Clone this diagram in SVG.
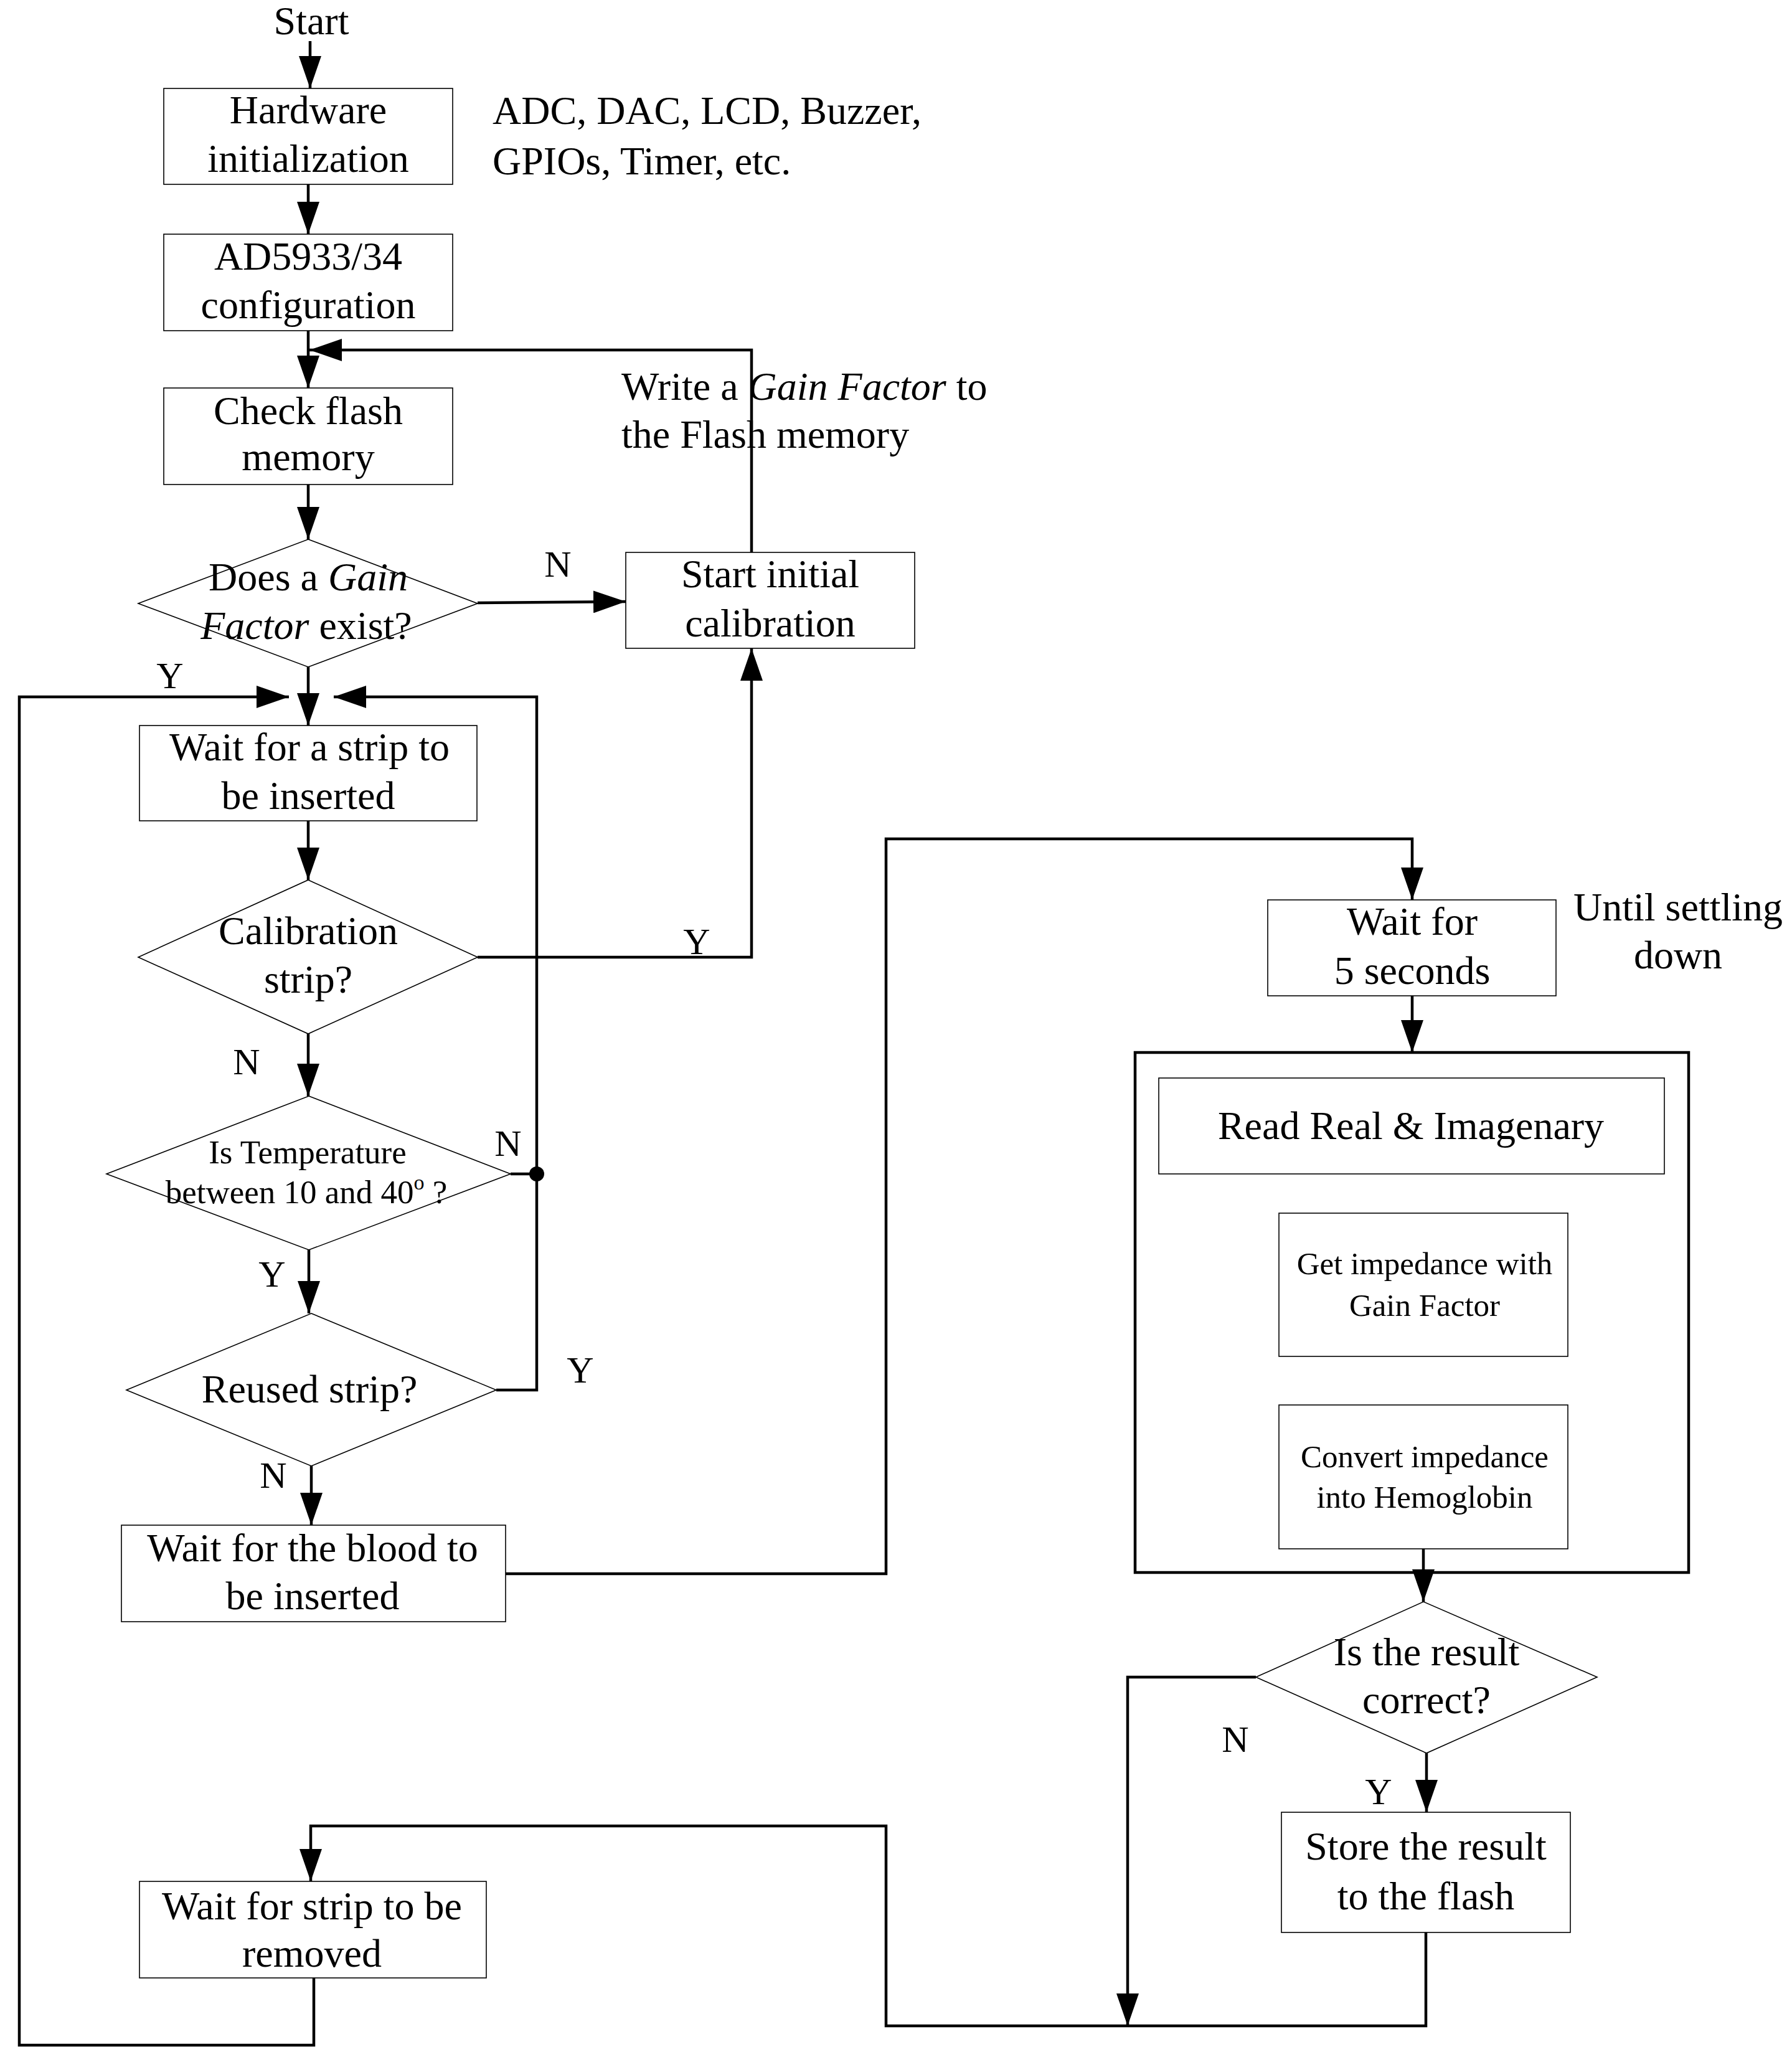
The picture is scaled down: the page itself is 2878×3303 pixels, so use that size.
<svg xmlns="http://www.w3.org/2000/svg" width="2878" height="3303" viewBox="0 0 2878 3303">
<style>
.bg{fill:#fff}
.box{fill:none;stroke:#000;stroke-width:1.6}
.frame{fill:none;stroke:#000;stroke-width:4.5}
.conn{fill:none;stroke:#000;stroke-width:4.5}
.t{font-family:"Liberation Serif","Times New Roman",serif;font-size:64px;fill:#000;text-anchor:middle}
.s{font-size:51px}
.m{font-size:53px}
.l{font-size:60px}
.st{text-anchor:start}
.i{font-style:italic}
</style>
<defs>
<marker id="arr" markerUnits="userSpaceOnUse" viewBox="0 0 52 36" markerWidth="52" markerHeight="36" refX="52" refY="18" orient="auto">
<path d="M0,0 L52,18 L0,36 Z" fill="#000"/>
</marker>
</defs>
<rect class="bg" x="0" y="0" width="2878" height="3303"/>

<g id="connectors">
<path class="conn" d="M498,66 L498,142" marker-end="url(#arr)"/>
<path class="conn" d="M495,296 L495,376" marker-end="url(#arr)"/>
<path class="conn" d="M495,531 L495,623" marker-end="url(#arr)"/>
<path class="conn" d="M1207,887 L1207,562 L497,562" marker-end="url(#arr)"/>
<path class="conn" d="M495,778 L495,866" marker-end="url(#arr)"/>
<path class="conn" d="M767,968 L1005,966" marker-end="url(#arr)"/>
<path class="conn" d="M495,1071 L495,1165" marker-end="url(#arr)"/>
<path class="conn" d="M504,3176 L504,3284 L31,3284 L31,1119 L464,1119" marker-end="url(#arr)"/>
<path class="conn" d="M797,2232 L862,2232 L862,1119 L536,1119" marker-end="url(#arr)"/>
<path class="conn" d="M820,1885 L862,1885"/>
<circle cx="862" cy="1885" r="12" fill="#000"/>
<path class="conn" d="M495,1318 L495,1413" marker-end="url(#arr)"/>
<path class="conn" d="M767,1537 L1207,1537 L1207,1041" marker-end="url(#arr)"/>
<path class="conn" d="M495,1660 L495,1760" marker-end="url(#arr)"/>
<path class="conn" d="M496,2007 L496,2109" marker-end="url(#arr)"/>
<path class="conn" d="M500,2354 L500,2449" marker-end="url(#arr)"/>
<path class="conn" d="M812,2527 L1423,2527 L1423,1347 L2268,1347 L2268,1445" marker-end="url(#arr)"/>
<path class="conn" d="M2268,1599 L2268,1690" marker-end="url(#arr)"/>
<path class="conn" d="M2286,2487 L2286,2572" marker-end="url(#arr)"/>
<path class="conn" d="M2017,2693 L1811,2693 L1811,3253" marker-end="url(#arr)"/>
<path class="conn" d="M2291,2815 L2291,2910" marker-end="url(#arr)"/>
<path class="conn" d="M2290,3103 L2290,3253 L1423,3253 L1423,2932 L499,2932 L499,3021" marker-end="url(#arr)"/>
</g>

<g id="labels">
<text class="t" x="500" y="55">Start</text>
<text class="t st" x="791" y="199">ADC, DAC, LCD, Buzzer,</text>
<text class="t st" x="791" y="280">GPIOs, Timer, etc.</text>
<text class="t st" x="998" y="642">Write a <tspan class="i">Gain Factor</tspan> to</text>
<text class="t st" x="998" y="719">the Flash memory</text>
<text class="t" x="2695" y="1478">Until settling</text>
<text class="t" x="2695" y="1555">down</text>
<text class="t l" x="896" y="926">N</text>
<text class="t l" x="273" y="1105">Y</text>
<text class="t l" x="1119" y="1532">Y</text>
<text class="t l" x="396" y="1725">N</text>
<text class="t l" x="816" y="1856">N</text>
<text class="t l" x="437" y="2066">Y</text>
<text class="t l" x="932" y="2220">Y</text>
<text class="t l" x="439" y="2389">N</text>
<text class="t l" x="1984" y="2813">N</text>
<text class="t l" x="2214" y="2897">Y</text>
</g>

<g id="n-hw">
<rect class="box" x="263" y="142" width="464" height="154"/>
<text class="t" x="495" y="198">Hardware</text>
<text class="t" x="495" y="276">initialization</text>
</g>
<g id="n-ad">
<rect class="box" x="263" y="376" width="464" height="155"/>
<text class="t" x="495" y="433">AD5933/34</text>
<text class="t" x="495" y="511">configuration</text>
</g>
<g id="n-flash">
<rect class="box" x="263" y="623" width="464" height="155"/>
<text class="t" x="495" y="681">Check flash</text>
<text class="t" x="495" y="755">memory</text>
</g>
<g id="n-gain">
<polygon class="box" points="495,866 767,969 495,1071 222,969"/>
<text class="t" x="495" y="948">Does a <tspan class="i">Gain</tspan></text>
<text class="t" x="492" y="1026"><tspan class="i">Factor</tspan> exist?</text>
</g>
<g id="n-calib">
<rect class="box" x="1005" y="887" width="464" height="154"/>
<text class="t" x="1237" y="943">Start initial</text>
<text class="t" x="1237" y="1022">calibration</text>
</g>
<g id="n-waitstrip">
<rect class="box" x="224" y="1165" width="542" height="153"/>
<text class="t" x="497" y="1221">Wait for a strip to</text>
<text class="t" x="495" y="1299">be inserted</text>
</g>
<g id="n-calstrip">
<polygon class="box" points="495,1413 767,1537 495,1660 222,1537"/>
<text class="t" x="495" y="1516">Calibration</text>
<text class="t" x="495" y="1594">strip?</text>
</g>
<g id="n-temp">
<polygon class="box" points="496,1760 820,1885 496,2007 171,1885"/>
<text class="t m" x="494" y="1868">Is Temperature</text>
<text class="t m" x="492" y="1932">between 10 and 40<tspan font-size="34" dy="-22">o</tspan><tspan dy="22"> ?</tspan></text>
</g>
<g id="n-reused">
<polygon class="box" points="500,2109 797,2232 500,2354 203,2232"/>
<text class="t" x="497" y="2252">Reused strip?</text>
</g>
<g id="n-blood">
<rect class="box" x="195" y="2449" width="617" height="155"/>
<text class="t" x="502" y="2507">Wait for the blood to</text>
<text class="t" x="502" y="2584">be inserted</text>
</g>
<g id="n-removed">
<rect class="box" x="224" y="3021" width="557" height="155"/>
<text class="t" x="501" y="3082">Wait for strip to be</text>
<text class="t" x="501" y="3158">removed</text>
</g>
<g id="n-wait5">
<rect class="box" x="2036" y="1445" width="463" height="154"/>
<text class="t" x="2268" y="1501">Wait for</text>
<text class="t" x="2268" y="1580">5 seconds</text>
</g>
<g id="n-process">
<rect class="frame" x="1823" y="1690" width="889" height="835"/>
</g>
<g id="n-read">
<rect class="box" x="1861" y="1731" width="812" height="154"/>
<text class="t" x="2266" y="1829">Read Real &amp; Imagenary</text>
</g>
<g id="n-getimp">
<rect class="box" x="2054" y="1948" width="464" height="230"/>
<text class="t s" x="2288" y="2046">Get impedance with</text>
<text class="t s" x="2288" y="2113">Gain Factor</text>
</g>
<g id="n-convert">
<rect class="box" x="2054" y="2256" width="464" height="231"/>
<text class="t s" x="2288" y="2356">Convert impedance</text>
<text class="t s" x="2288" y="2421">into Hemoglobin</text>
</g>
<g id="n-result">
<polygon class="box" points="2286,2572 2565,2693 2291,2815 2017,2693"/>
<text class="t" x="2291" y="2674">Is the result</text>
<text class="t" x="2291" y="2751">correct?</text>
</g>
<g id="n-store">
<rect class="box" x="2058" y="2910" width="464" height="193"/>
<text class="t" x="2290" y="2986">Store the result</text>
<text class="t" x="2290" y="3066">to the flash</text>
</g>
</svg>
